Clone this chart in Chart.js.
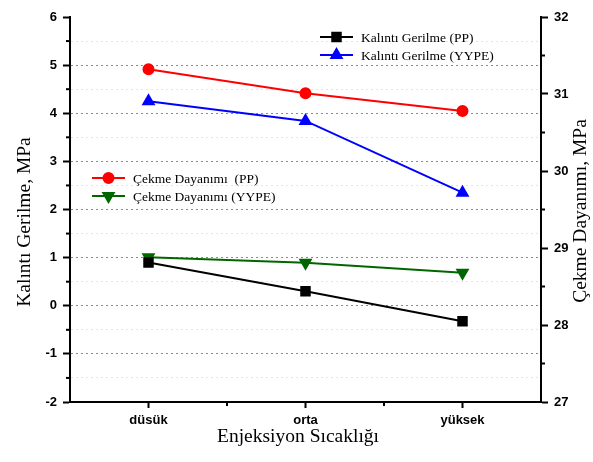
<!DOCTYPE html>
<html lang="tr">
<head>
  <meta charset="UTF-8" />
  <title>Kalıntı Gerilme ve Çekme Dayanımı</title>
  <script src="https://cdn.jsdelivr.net/npm/chart.js"></script>
  <style>
    body { margin: 0; background: #fff; }
    #wrap { width: 593px; height: 462px; }
  </style>
</head>
<body>
  <div id="wrap"><canvas id="grafik" width="593" height="462"></canvas></div>
  <script>
    // Veriler
    const kategoriler = ["düsük", "orta", "yüksek"];
    const kalintiPP = [0.9, 0.3, -0.32];
    const kalintiYYPE = [4.25, 3.84, 2.35];
    const cekmePP = [31.32, 31.01, 30.78];
    const cekmeYYPE = [28.88, 28.81, 28.68];

    const solMin = -2, solMax = 6;
    const sagMin = 27, sagMax = 32;

    const eksenFont = { family: "'Liberation Sans', Arial, sans-serif", size: 13, weight: "bold" };
    const baslikFont = "19.5px 'Liberation Serif', 'Times New Roman', serif";
    const legendFont = "13.5px 'Liberation Serif', 'Times New Roman', serif";

    const isInt = v => Math.abs(v - Math.round(v)) < 1e-6;

    // Ara tikler, eksen başlıkları ve iki ayrı lejant
    const ekstraCizim = {
      id: "ekstraCizim",
      afterDraw(chart) {
        const ctx = chart.ctx;
        const { x, y, y2 } = chart.scales;
        const area = chart.chartArea;

        // ara tikler (kısa)
        ctx.save();
        ctx.strokeStyle = "#000";
        ctx.lineWidth = 2;
        for (let i = 0; i < kategoriler.length - 1; i++) {
          const px = x.getPixelForValue(i + 0.5);
          ctx.beginPath();
          ctx.moveTo(px, area.bottom);
          ctx.lineTo(px, area.bottom + 4);
          ctx.stroke();
        }
        for (let v = solMin + 0.5; v < solMax; v += 1) {
          const py = y.getPixelForValue(v);
          ctx.beginPath();
          ctx.moveTo(area.left, py);
          ctx.lineTo(area.left - 4, py);
          ctx.stroke();
        }
        for (let v = sagMin + 0.5; v < sagMax; v += 1) {
          const py = y2.getPixelForValue(v);
          ctx.beginPath();
          ctx.moveTo(area.right, py);
          ctx.lineTo(area.right + 4, py);
          ctx.stroke();
        }
        ctx.restore();

        // eksen başlıkları
        ctx.save();
        ctx.fillStyle = "#000";
        ctx.font = baslikFont;
        ctx.textAlign = "center";
        ctx.textBaseline = "middle";
        ctx.fillText("Enjeksiyon Sıcaklığı", 298, 437);
        ctx.translate(25, 222);
        ctx.rotate(-Math.PI / 2);
        ctx.fillText("Kalıntı Gerilme, MPa", 0, 0);
        ctx.restore();

        ctx.save();
        ctx.fillStyle = "#000";
        ctx.font = baslikFont;
        ctx.textAlign = "center";
        ctx.textBaseline = "middle";
        ctx.translate(581, 211);
        ctx.rotate(-Math.PI / 2);
        ctx.fillText("Çekme Dayanımı, MPa", 0, 0);
        ctx.restore();

        // lejantlar
        const gruplar = [
          { x: 320, y: 37, setler: [0, 1] },
          { x: 92, y: 178, setler: [2, 3] }
        ];
        gruplar.forEach(g => {
          g.setler.forEach((idx, k) => {
            const ds = chart.data.datasets[idx];
            const yy = g.y + k * 18;
            ctx.save();
            ctx.strokeStyle = ds.borderColor;
            ctx.lineWidth = 2;
            ctx.beginPath();
            ctx.moveTo(g.x, yy);
            ctx.lineTo(g.x + 33, yy);
            ctx.stroke();
            ctx.fillStyle = ds.pointBackgroundColor;
            ctx.strokeStyle = ds.borderColor;
            Chart.helpers.drawPoint(ctx, {
              pointStyle: ds.pointStyle,
              radius: ds.pointRadius,
              rotation: ds.pointRotation || 0,
              borderWidth: 1
            }, g.x + 16.5, yy);
            ctx.fillStyle = "#000";
            ctx.font = legendFont;
            ctx.textAlign = "left";
            ctx.textBaseline = "middle";
            ctx.fillText(ds.label, g.x + 41, yy + 1);
            ctx.restore();
          });
        });
      }
    };

    new Chart(document.getElementById("grafik"), {
      type: "line",
      data: {
        labels: kategoriler,
        datasets: [
          {
            label: "Kalıntı Gerilme (PP)", data: kalintiPP, yAxisID: "y",
            borderColor: "#000000", pointBackgroundColor: "#000000",
            pointStyle: "rect", pointRadius: 6, borderWidth: 2
          },
          {
            label: "Kalıntı Gerilme (YYPE)", data: kalintiYYPE, yAxisID: "y",
            borderColor: "#0000ff", pointBackgroundColor: "#0000ff",
            pointStyle: "triangle", pointRadius: 6, borderWidth: 2
          },
          {
            label: "Çekme Dayanımı  (PP)", data: cekmePP, yAxisID: "y2",
            borderColor: "#ff0000", pointBackgroundColor: "#ff0000",
            pointStyle: "circle", pointRadius: 5, borderWidth: 2
          },
          {
            label: "Çekme Dayanımı (YYPE)", data: cekmeYYPE, yAxisID: "y2",
            borderColor: "#006600", pointBackgroundColor: "#006600",
            pointStyle: "triangle", pointRotation: 180, pointRadius: 6, borderWidth: 2
          }
        ]
      },
      options: {
        responsive: false,
        animation: false,
        layout: { padding: { top: 17, left: 0, right: 0, bottom: 0 } },
        elements: { line: { tension: 0 } },
        plugins: { legend: { display: false }, tooltip: { enabled: false } },
        scales: {
          x: {
            type: "category",
            offset: true,
            afterFit: s => { s.height = 60; },
            grid: {
              drawOnChartArea: false,
              tickLength: 6, tickWidth: 2, tickColor: "#000"
            },
            border: { color: "#000", width: 2 },
            ticks: { color: "#000", font: eksenFont, padding: 5 }
          },
          y: {
            position: "left",
            min: solMin, max: solMax,
            afterFit: s => { s.width = 70; },
            grid: {
              color: c => {
                const v = c.tick.value;
                if (v >= solMax) return "rgba(0,0,0,0)";
                return isInt(v) ? "#8a8a8a" : "#e4e4e4";
              },
              lineWidth: 1,
              tickLength: 7, tickWidth: 2,
              tickColor: c => isInt(c.tick.value) ? "#000" : "rgba(0,0,0,0)",
              tickBorderDash: []
            },
            border: { color: "#000", width: 2, dash: [2, 3] },
            ticks: {
              stepSize: 0.5,
              color: "#000",
              font: eksenFont,
              padding: 6,
              callback: v => isInt(v) ? String(Math.round(v)) : ""
            }
          },
          y2: {
            position: "right",
            min: sagMin, max: sagMax,
            afterFit: s => { s.width = 52; },
            grid: {
              drawOnChartArea: false,
              tickLength: 7, tickWidth: 2,
              tickColor: c => isInt(c.tick.value) ? "#000" : "rgba(0,0,0,0)"
            },
            border: { color: "#000", width: 2 },
            ticks: {
              stepSize: 0.5,
              color: "#000",
              font: eksenFont,
              padding: 6,
              callback: v => isInt(v) ? String(Math.round(v)) : ""
            }
          }
        }
      },
      plugins: [ekstraCizim]
    });
  </script>
</body>
</html>
